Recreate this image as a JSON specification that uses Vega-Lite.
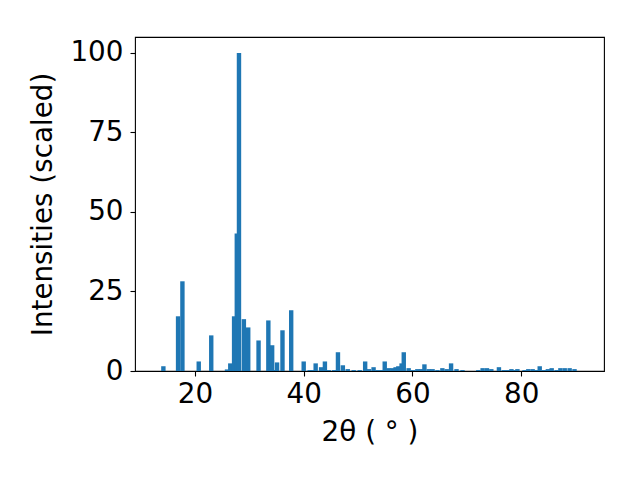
{
  "$schema": "https://vega.github.io/schema/vega-lite/v6.json",
  "autosize": "none",
  "width": 469,
  "height": 334,
  "padding": {"left": 135, "top": 37, "right": 36, "bottom": 109},
  "background": "white",
  "config": {
    "view": {"stroke": "black", "strokeWidth": 1.1},
    "font": "DejaVu Sans",
    "axis": {
      "domain": false, "grid": false, "tickColor": "black", "tickSize": 5, "tickWidth": 1.1,
      "labelFont": "DejaVu Sans", "labelFontSize": 27.8, "labelColor": "black",
      "titleFont": "DejaVu Sans", "titleFontSize": 27.8, "titleFontWeight": "normal", "titleColor": "black"
    }
  },
  "data": {"values": [
    {"x": 14.2, "y": 1.5}, {"x": 16.9, "y": 17.2}, {"x": 17.7, "y": 28.2}, {"x": 20.7, "y": 3.0},
    {"x": 23.0, "y": 11.2}, {"x": 25.9, "y": 0.5}, {"x": 26.5, "y": 2.4}, {"x": 27.2, "y": 17.2},
    {"x": 27.7, "y": 43.2}, {"x": 28.1, "y": 100}, {"x": 29.0, "y": 16.3}, {"x": 29.8, "y": 13.7},
    {"x": 31.7, "y": 9.6}, {"x": 33.5, "y": 15.9}, {"x": 34.2, "y": 8.1}, {"x": 34.6, "y": 0.3},
    {"x": 35.1, "y": 2.7}, {"x": 36.1, "y": 12.8}, {"x": 37.7, "y": 19.1}, {"x": 40.0, "y": 3.0},
    {"x": 41.1, "y": 0.3}, {"x": 41.6, "y": 0.3}, {"x": 42.2, "y": 2.4}, {"x": 43.2, "y": 1.2},
    {"x": 43.9, "y": 3.0}, {"x": 44.6, "y": 0.3}, {"x": 45.6, "y": 0.3}, {"x": 46.3, "y": 5.9},
    {"x": 47.2, "y": 1.8}, {"x": 48.1, "y": 0.6}, {"x": 49.2, "y": 0.3}, {"x": 50.3, "y": 0.3},
    {"x": 51.3, "y": 3.0}, {"x": 52.0, "y": 0.6}, {"x": 52.85, "y": 1.2}, {"x": 53.6, "y": 0.3},
    {"x": 54.3, "y": 0.3}, {"x": 54.9, "y": 3.0}, {"x": 55.6, "y": 0.9}, {"x": 56.3, "y": 0.9},
    {"x": 56.9, "y": 1.2}, {"x": 57.4, "y": 1.5}, {"x": 58.0, "y": 2.4}, {"x": 58.4, "y": 5.9},
    {"x": 59.3, "y": 0.9}, {"x": 60.1, "y": 0.3}, {"x": 60.9, "y": 0.6}, {"x": 61.6, "y": 0.6},
    {"x": 62.2, "y": 2.1}, {"x": 63.0, "y": 0.6}, {"x": 63.7, "y": 0.6}, {"x": 64.6, "y": 0.3},
    {"x": 65.5, "y": 0.9}, {"x": 66.3, "y": 0.6}, {"x": 67.1, "y": 2.4}, {"x": 68.1, "y": 0.6},
    {"x": 69.2, "y": 0.3}, {"x": 72.1, "y": 0.3}, {"x": 72.9, "y": 0.9}, {"x": 73.7, "y": 0.9},
    {"x": 74.5, "y": 0.6}, {"x": 75.9, "y": 1.2}, {"x": 76.8, "y": 0.3}, {"x": 77.6, "y": 0.3},
    {"x": 78.2, "y": 0.6}, {"x": 78.8, "y": 0.3}, {"x": 79.3, "y": 0.6}, {"x": 80.6, "y": 0.3},
    {"x": 81.3, "y": 0.6}, {"x": 82.1, "y": 0.6}, {"x": 82.8, "y": 0.3}, {"x": 83.4, "y": 1.5},
    {"x": 84.2, "y": 0.3}, {"x": 84.9, "y": 0.6}, {"x": 85.6, "y": 0.9}, {"x": 86.5, "y": 0.3},
    {"x": 87.2, "y": 0.9}, {"x": 88.0, "y": 0.9}, {"x": 88.9, "y": 0.9}, {"x": 89.8, "y": 0.6}
  ]},
  "mark": {"type": "bar", "size": 4.4, "color": "#1f77b4", "clip": true},
  "encoding": {
    "x": {
      "field": "x", "type": "quantitative",
      "scale": {"domain": [9.9, 94.3], "nice": false, "zero": false},
      "axis": {"values": [20, 40, 60, 80], "title": "2θ ( ° )", "labelPadding": 4, "titlePadding": 11}
    },
    "y": {
      "field": "y", "type": "quantitative",
      "scale": {"domain": [0, 105], "nice": false},
      "axis": {"values": [0, 25, 50, 75, 100], "title": "Intensities (scaled)", "labelPadding": 7, "titlePadding": 12}
    }
  }
}
